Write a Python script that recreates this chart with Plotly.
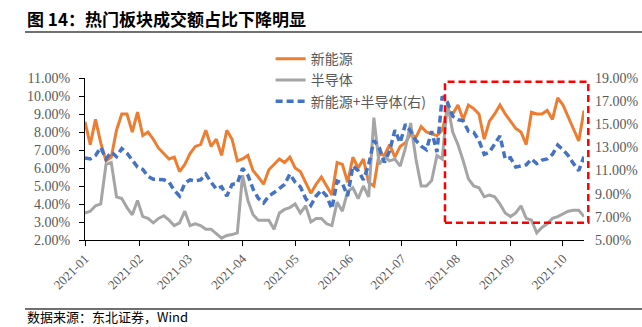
import pandas as pd
import plotly.graph_objects as go

# ---------------- data ----------------
start_date = "2021-01-04"
step = "3D"

new_energy = [8.57, 7.3, 8.7, 7.4, 6.4, 6.6, 8.1, 9.0, 9.0, 8.0,
              9.1, 7.8, 8.0, 7.6, 7.1, 6.8, 6.5, 6.6, 5.8, 6.2,
              6.8, 7.2, 7.3, 8.1, 7.2, 7.6, 6.7, 8.1, 7.6, 6.4,
              6.5, 6.7, 5.85, 5.5, 5.1, 5.9, 6.2, 6.5, 6.3, 6.6,
              6.0, 5.8, 5.2, 4.6, 5.1, 5.5, 5.0, 4.5, 6.3, 6.2,
              5.2, 6.6, 6.0, 6.5, 5.2, 5.0, 6.8, 6.7, 7.3, 6.6,
              7.2, 7.4, 7.9, 7.7, 8.3, 8.0, 7.9, 7.8, 8.1, 9.2,
              9.0, 9.5, 8.7, 9.5, 9.3, 9.0, 7.6, 8.6, 9.0, 9.5,
              9.0, 8.6, 8.2, 8.0, 7.3, 9.1, 9.0, 9.0, 9.2, 8.7,
              9.9, 9.5, 8.8, 8.2, 7.5, 9.2]

semiconductor = [3.5, 3.6, 3.9, 4.0, 6.2, 6.3, 4.4, 4.3, 3.8, 3.4,
                 4.2, 3.3, 3.2, 2.95, 3.2, 3.35, 3.1, 2.8, 2.95, 3.6,
                 2.8, 2.9, 2.8, 2.6, 2.6, 2.35, 2.1, 2.25, 2.3, 2.4,
                 5.6, 4.2, 3.4, 3.1, 3.1, 3.1, 2.6, 3.5, 3.7, 3.8,
                 4.0, 3.5, 3.9, 3.0, 3.2, 3.2, 2.9, 2.8, 4.1, 3.6,
                 4.7, 4.9, 4.3, 5.0, 4.4, 8.8, 6.2, 6.6, 6.4, 6.5,
                 6.1, 7.1, 8.5, 6.5, 5.0, 5.0, 5.3, 6.7, 6.5, 9.6,
                 8.0, 7.3, 6.4, 5.4, 5.0, 4.9, 4.4, 4.5, 4.4, 4.0,
                 3.5, 3.3, 3.5, 3.9, 3.2, 3.1, 2.4, 2.7, 2.9, 3.2,
                 3.3, 3.45, 3.6, 3.65, 3.65, 3.3]

combined = [12.1, 12.0, 12.3, 13.0, 12.0, 12.6, 12.2, 12.9, 12.5, 11.9,
            11.3, 11.1, 10.5, 10.25, 10.2, 10.2, 10.0, 9.3, 8.8, 9.9,
            10.2, 10.1, 10.2, 10.7, 10.0, 9.4, 9.6, 8.8, 9.8, 9.9,
            11.2, 10.6, 9.4, 8.6, 8.2, 8.8, 9.1, 9.5, 9.8, 10.7,
            10.0, 9.6, 8.6, 8.0, 8.8, 9.3, 8.8, 7.7, 10.1, 9.9,
            8.8, 11.4, 11.0, 10.2, 11.5, 13.6, 13.0, 11.7, 12.7, 14.5,
            13.4, 15.0, 14.4, 13.6, 13.1, 12.8, 14.4, 12.6, 17.4, 16.9,
            15.7, 15.4, 15.3, 14.4, 14.3, 13.6, 12.4, 12.6, 13.3, 14.0,
            12.0, 12.1, 11.3, 11.4, 11.5, 12.0, 11.6, 11.9, 12.0, 12.4,
            13.2, 12.8, 12.3, 11.6, 11.0, 12.2]

tick_dates = ["2021-01-04", "2021-02-04", "2021-03-04", "2021-04-04", "2021-05-04",
              "2021-06-04", "2021-07-04", "2021-08-04", "2021-09-04", "2021-10-04"]
tick_labels = ["2021-01", "2021-02", "2021-03", "2021-04", "2021-05",
               "2021-06", "2021-07", "2021-08", "2021-09", "2021-10"]

names = ["新能源", "半导体", "新能源+半导体(右)"]
title_text = "图 14：热门板块成交额占比下降明显"
source_text = "数据来源：东北证券，Wind"

dates = pd.date_range(start_date, periods=len(new_energy), freq=step)

# ---------------- figure ----------------
ORANGE = "#ED7D31"
GRAY = "#A5A5A5"
BLUE = "#4472C4"
TXT = "#595959"
SERIF = "Liberation Serif, Times New Roman, serif"
CJK = "Noto Sans CJK SC, sans-serif"

fig = go.Figure()
fig.add_trace(go.Scatter(x=dates, y=new_energy, name=names[0], mode="lines",
                         line=dict(color=ORANGE, width=3)))
fig.add_trace(go.Scatter(x=dates, y=semiconductor, name=names[1], mode="lines",
                         line=dict(color=GRAY, width=3)))
fig.add_trace(go.Scatter(x=dates, y=combined, name=names[2], mode="lines", yaxis="y2",
                         line=dict(color=BLUE, width=3.5, dash="7px,4px")))

fig.update_layout(
    width=642, height=327, autosize=False,
    margin=dict(l=85, r=58, t=78, b=87, autoexpand=False),
    paper_bgcolor="white", plot_bgcolor="white",
    showlegend=True,
    legend=dict(x=0.372, y=1.215, xanchor="left", yanchor="top",
                bgcolor="rgba(0,0,0,0)", font=dict(family=CJK, size=14, color=TXT),
                tracegroupgap=0),
    xaxis=dict(type="date", range=["2021-01-04", "2021-10-16"], automargin=False,
               tickmode="array", tickvals=tick_dates, ticktext=tick_labels,
               tickangle=-45, ticks="outside", ticklen=5, tickcolor="#000",
               showline=True, linecolor="#000", linewidth=1, showgrid=False,
               zeroline=False, tickfont=dict(family=SERIF, size=13, color=TXT)),
    yaxis=dict(range=[2, 11], tick0=2, dtick=1, tickformat=".2f", ticksuffix="%",
               automargin=False,
               ticks="outside", ticklen=5, tickcolor="#000",
               showline=True, linecolor="#000", linewidth=1, showgrid=False,
               zeroline=False, ticklabelstandoff=6,
               tickfont=dict(family=SERIF, size=14, color=TXT)),
    yaxis2=dict(range=[5, 19], tick0=5, dtick=2, tickformat=".2f", ticksuffix="%",
                automargin=False,
                overlaying="y", side="right", showline=False, ticks="",
                showgrid=False, zeroline=False, ticklabelstandoff=10,
                tickfont=dict(family=SERIF, size=14, color=TXT)),
)

# highlighted box (annotation)
fig.add_shape(type="rect", xref="paper", yref="paper",
              x0=0.7214, x1=1.0086, y0=0.107, y1=0.977,
              line=dict(color="#FF0000", width=2.5, dash="7px,4px"),
              fillcolor="rgba(0,0,0,0)", layer="above")

# title and source with rules
fig.add_annotation(text="<b>" + title_text + "</b>", xref="paper", yref="paper",
                   x=-0.1202, y=1.370, xanchor="left", yanchor="middle",
                   showarrow=False, font=dict(family=CJK, size=17, color="#000"))
fig.add_shape(type="line", xref="paper", yref="paper", x0=-0.1202, x1=1.12,
              y0=1.284, y1=1.284, line=dict(color="#404040", width=1.5))
fig.add_shape(type="line", xref="paper", yref="paper", x0=-0.1202, x1=1.12,
              y0=-0.426, y1=-0.426, line=dict(color="#404040", width=1.5))
fig.add_annotation(text=source_text, xref="paper", yref="paper",
                   x=-0.1202, y=-0.475, xanchor="left", yanchor="middle",
                   showarrow=False, font=dict(family=CJK, size=13, color="#000"))

fig.write_html("out.html")
